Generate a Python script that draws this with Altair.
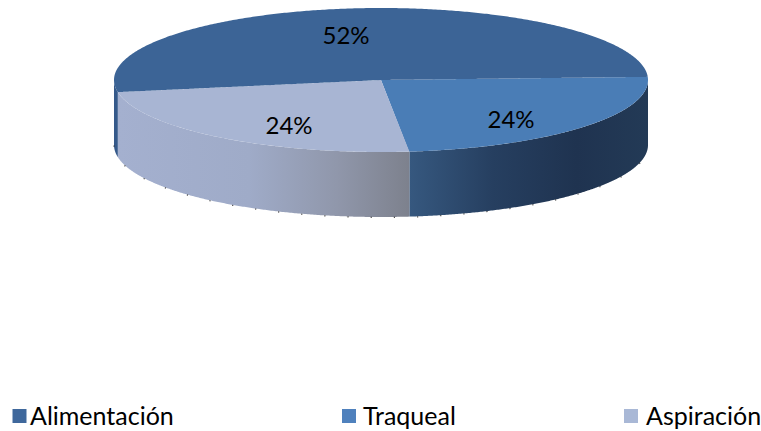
import altair as alt
import numpy as np
import pandas as pd

# Chart values
categories = ["Alimentación", "Traqueal", "Aspiración"]
shares = [52, 24, 24]
top_colors = ["#3c6496", "#4a7db6", "#a8b5d3"]
legend_colors = ["#3f689c", "#4f81bd", "#a9b8d6"]

# Drawn disc: centre, radii, wall depth, rotation of the first boundary
CX, CY, RX, RY, DEPTH = 381.0, 80.0, 267.0, 72.0, 65.0
START_ANGLE = 2.5

# Where the percentages and the legend sit on the canvas
label_x = [346, 511, 289]
label_y = [37, 121, 127]
legend_mark_x = [19.5, 349, 631]
legend_text_x = [30, 363, 646]
LEGEND_MARK_Y, LEGEND_TEXT_Y = 416, 425

W, H = 761, 431
x_scale = alt.Scale(domain=[0, W], range=[0, W], nice=False, zero=False)
y_scale = alt.Scale(domain=[0, H], range=[0, H], nice=False, zero=False)


def ellipse_xy(deg):
    rad = np.radians(deg)
    return CX + RX * np.cos(rad), CY - RY * np.sin(rad)


def slice_band(a_start, a_end):
    """Vertical extent of a pie sector for each x along its outline."""
    angles = np.arange(a_start, a_end - 0.25, -0.5).tolist() + [a_end]
    px, py = ellipse_xy(np.array(angles))
    px = np.r_[CX, px, CX]
    py = np.r_[CY, py, CY]
    rows = []
    for x in np.unique(np.round(px, 3)):
        hits = []
        for i in range(len(px) - 1):
            x0, x1, y0, y1 = px[i], px[i + 1], py[i], py[i + 1]
            lo, hi = min(x0, x1), max(x0, x1)
            if lo - 1e-3 <= x <= hi + 1e-3:
                if abs(x1 - x0) < 1e-6:
                    hits += [y0, y1]
                else:
                    hits.append(y0 + (y1 - y0) * (x - x0) / (x1 - x0))
        rows.append({"px": float(x), "upper": float(min(hits)), "lower": float(max(hits))})
    return pd.DataFrame(rows)


def wall_band(a_start, a_end):
    """Front wall below the rim, limited to the lower half of the ellipse."""
    a_hi, a_lo = min(a_start, 0), max(a_end, -180)
    if a_hi <= a_lo:
        return None
    px, py = ellipse_xy(np.linspace(a_hi, a_lo, 240))
    df = pd.DataFrame({"px": px, "upper": py, "lower": py + DEPTH})
    return df.sort_values("px")


def h_gradient(*pairs):
    return alt.Gradient(
        gradient="linear",
        x1=0,
        x2=1,
        y1=0,
        y2=0,
        stops=[alt.GradientStop(offset=o, color=c) for o, c in pairs],
    )


def band_layer(df, fill):
    return (
        alt.Chart(df)
        .mark_area(fill=fill, opacity=1, interpolate="linear")
        .encode(
            x=alt.X("px:Q", scale=x_scale, axis=None),
            y=alt.Y("upper:Q", scale=y_scale, axis=None, stack=None),
            y2=alt.Y2("lower:Q"),
        )
    )


# Sector boundaries follow from the shares, running clockwise from the right
boundaries = {}
a = START_ANGLE
sweep_order = [1, 2, 0]
for i in sweep_order:
    boundaries[i] = (a, a - shares[i] * 3.6)
    a -= shares[i] * 3.6

wall_fills = {
    0: "#35598a",
    1: h_gradient((0, "#36587f"), (0.35, "#263f60"), (0.7, "#1f3350"), (1, "#233a56")),
    2: h_gradient((0, "#a4b0cf"), (0.45, "#9fabc8"), (0.75, "#9097ab"), (1, "#7d818d")),
}

layers = []
for i in sweep_order:
    wall = wall_band(*boundaries[i])
    if wall is not None:
        layers.append(band_layer(wall, wall_fills[i]))
for i in sweep_order:
    layers.append(band_layer(slice_band(*boundaries[i]), top_colors[i]))

# Sparse dark stipple along the outer lower rim of the wall
rim_x, rim_y = ellipse_xy(np.linspace(0, -180, 360))
rim = pd.DataFrame({"px": rim_x, "py": rim_y + DEPTH + 0.5})
layers.append(
    alt.Chart(rim)
    .mark_line(color="#222222", strokeWidth=1.2, strokeDash=[1.2, 22], opacity=0.8)
    .encode(
        x=alt.X("px:Q", scale=x_scale, axis=None, sort=None),
        y=alt.Y("py:Q", scale=y_scale, axis=None),
    )
)

# Percentages on the slices
labels = pd.DataFrame(
    {"x": label_x, "y": label_y, "text": [f"{s}%" for s in shares]}
)
layers.append(
    alt.Chart(labels)
    .mark_text(font="Lato", fontSize=24, color="#000000", baseline="middle", align="center")
    .encode(
        x=alt.X("x:Q", scale=x_scale, axis=None),
        y=alt.Y("y:Q", scale=y_scale, axis=None),
        text="text:N",
    )
)

# Legend row along the bottom edge
legend = pd.DataFrame(
    {
        "mx": legend_mark_x,
        "tx": legend_text_x,
        "my": [LEGEND_MARK_Y] * 3,
        "ty": [LEGEND_TEXT_Y] * 3,
        "name": categories,
        "color": legend_colors,
    }
)
layers.append(
    alt.Chart(legend)
    .mark_square(size=196, opacity=1, strokeWidth=0)
    .encode(
        x=alt.X("mx:Q", scale=x_scale, axis=None),
        y=alt.Y("my:Q", scale=y_scale, axis=None),
        fill=alt.Color("color:N", scale=None),
    )
)
layers.append(
    alt.Chart(legend)
    .mark_text(font="Lato", fontSize=25, color="#000000", baseline="alphabetic", align="left")
    .encode(
        x=alt.X("tx:Q", scale=x_scale, axis=None),
        y=alt.Y("ty:Q", scale=y_scale, axis=None),
        text="name:N",
    )
)

chart = (
    alt.layer(*layers)
    .resolve_scale(x="shared", y="shared")
    .properties(
        width=W,
        height=H,
        padding=0,
        autosize=alt.AutoSizeParams(type="none"),
        background="#ffffff",
    )
    .configure_view(stroke=None)
)

chart.save("out.html", embed_options={"renderer": "svg", "actions": False})
